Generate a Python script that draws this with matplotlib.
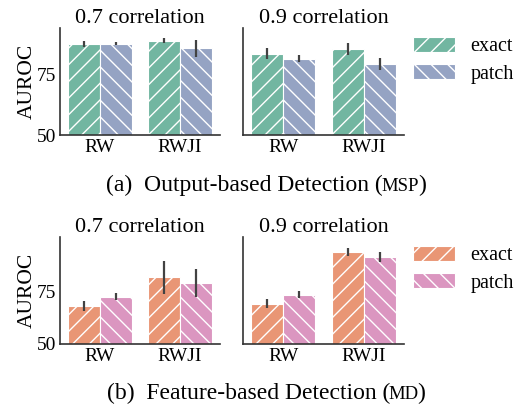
import colorsys
import numpy as np
import matplotlib
matplotlib.use('Agg')
import matplotlib.pyplot as plt
import matplotlib.colors as mcolors
from matplotlib.offsetbox import TextArea, HPacker, AnchoredOffsetbox

plt.rcParams['font.family'] = ['Liberation Serif', 'DejaVu Serif']
plt.rcParams['hatch.linewidth'] = 1.0

methods = ['RW', 'RWJI']
series = ['exact', 'patch']
titles = ['0.7 correlation', '0.9 correlation']

# output-based (MSP)
out_07_exact = [87.9, 89.3]
out_07_exact_err = [1.2, 1.0]
out_07_patch = [87.9, 86.1]
out_07_patch_err = [0.6, 3.6]
out_09_exact = [83.8, 85.7]
out_09_exact_err = [2.2, 2.6]
out_09_patch = [81.7, 79.6]
out_09_patch_err = [1.5, 2.6]

# feature-based (MD)
feat_07_exact = [68.2, 81.7]
feat_07_exact_err = [2.4, 7.9]
feat_07_patch = [72.6, 79.0]
feat_07_patch_err = [1.7, 6.6]
feat_09_exact = [69.2, 94.0]
feat_09_exact_err = [2.1, 1.9]
feat_09_patch = [73.4, 91.6]
feat_09_patch_err = [1.7, 2.4]


def desat(c, prop=0.75):
    r, g, b = mcolors.to_rgb(c)
    h, l, s = colorsys.rgb_to_hls(r, g, b)
    return colorsys.hls_to_rgb(h, l, s * prop)


top_colors = [desat('#66c2a5'), desat('#8da0cb')]
bot_colors = [desat('#fc8d62'), desat('#e78ac3')]
hatches = ['//', '\\\\']

fig = plt.figure(figsize=(5.18, 4.07), dpi=100)
W, H = 518, 407


def add_ax(l, t, r, b):
    return fig.add_axes([l / W, 1 - b / H, (r - l) / W, (b - t) / H])


rows = [
    dict(top=28, bottom=135, ylim=(50, 94.5), colors=top_colors,
         data=[[(out_07_exact, out_07_exact_err), (out_07_patch, out_07_patch_err)],
               [(out_09_exact, out_09_exact_err), (out_09_patch, out_09_patch_err)]]),
    dict(top=237, bottom=344, ylim=(50, 101), colors=bot_colors,
         data=[[(feat_07_exact, feat_07_exact_err), (feat_07_patch, feat_07_patch_err)],
               [(feat_09_exact, feat_09_exact_err), (feat_09_patch, feat_09_patch_err)]]),
]

x = np.arange(len(methods))
w = 0.4
for row in rows:
    axes = [add_ax(60, row['top'], 220, row['bottom']),
            add_ax(243, row['top'], 404, row['bottom'])]
    for j, ax in enumerate(axes):
        for k in range(2):
            vals, errs = row['data'][j][k]
            ax.bar(x + (k - 0.5) * w, np.array(vals) - 50, w, bottom=50,
                   color=row['colors'][k], edgecolor='white', linewidth=0.8,
                   hatch=hatches[k], label=series[k])
            ax.errorbar(x + (k - 0.5) * w, vals, yerr=errs, fmt='none',
                        ecolor='#424242', elinewidth=1.6, capsize=0)
        ax.set_xlim(-0.5, 1.5)
        ax.set_ylim(*row['ylim'])
        ax.set_xticks(x)
        ax.set_xticklabels(methods, fontsize=14)
        ax.set_yticks([50, 75])
        ax.tick_params(length=0, pad=3, labelsize=14)
        for s in ['top', 'right']:
            ax.spines[s].set_visible(False)
        for s in ['left', 'bottom']:
            ax.spines[s].set_color('#333333')
            ax.spines[s].set_linewidth(1.2)
        ax.set_title(titles[j], fontsize=16, pad=3)
        if j == 0:
            ax.set_ylabel('AUROC', fontsize=15.5, labelpad=0)
        else:
            ax.set_yticklabels([])
    axes[1].legend(loc='upper left', bbox_to_anchor=(413 / W, 1 - (row['top'] + 9) / H),
                   bbox_transform=fig.transFigure, frameon=False, fontsize=14.5,
                   handlelength=2.1, handleheight=0.75, handletextpad=0.75,
                   labelspacing=0.4, borderpad=0, borderaxespad=0)


def caption(parts, y):
    boxes = [TextArea(t, textprops=dict(fontsize=fs, family=['Liberation Serif']))
             for t, fs in parts]
    pack = HPacker(children=boxes, align='baseline', pad=0, sep=-1)
    anch = AnchoredOffsetbox(loc='center', child=pack, frameon=False,
                             bbox_to_anchor=(266 / W, 1 - y / H),
                             bbox_transform=fig.transFigure, borderpad=0, pad=0)
    fig.add_artist(anch)


caption([('(a)  Output-based Detection (', 17), ('MSP', 13.5), (')', 17)], 185)
caption([('(b)  Feature-based Detection (', 17), ('MD', 13.5), (')', 17)], 393)

fig.savefig('out.png', dpi=100)
